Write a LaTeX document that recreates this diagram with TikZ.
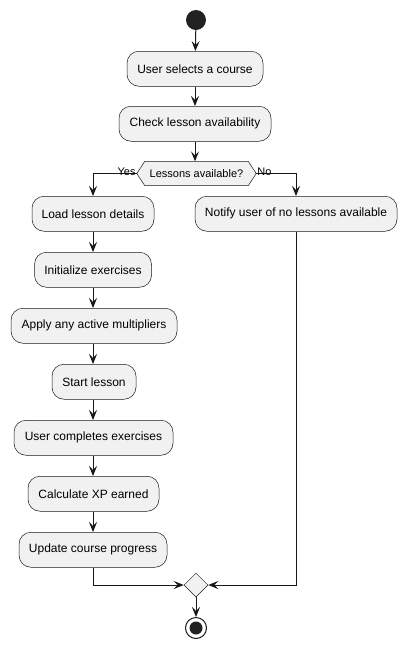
\documentclass[tikz,border=0pt]{standalone}
\usepackage{fontspec}
\setmainfont{Liberation Sans}
\usetikzlibrary{arrows.meta,shapes.geometric}
\definecolor{boxfill}{HTML}{F1F1F1}
\definecolor{linecol}{HTML}{181818}
\definecolor{dotcol}{HTML}{222222}
\begin{document}
\begin{tikzpicture}[x=1pt,y=-1pt,
  act/.style={draw=linecol,fill=boxfill,rounded corners=12pt,line width=0.5pt,
    minimum height=35pt,inner sep=0pt,font=\fontsize{12}{14}\selectfont,anchor=north},
  flow/.style={draw=linecol,line width=1pt,-{Stealth[length=10pt,width=8pt,inset=4pt]}},
  lbl/.style={font=\fontsize{11}{13}\selectfont,inner sep=0pt}]
\useasboundingbox (0,0) rectangle (407,649);
\node[circle,fill=dotcol,minimum size=20pt,inner sep=0pt] (start) at (196,20) {};
\node[act,minimum width=136pt] (a1) at (195,51) {User selects a course};
\node[act,minimum width=152pt] (a2) at (195,106) {Check lesson availability};
\node[lbl,minimum width=119pt,minimum height=24pt] (dec) at (196.5,173.5) {Lessons available?};
\draw[draw=linecol,fill=boxfill,line width=0.5pt] (dec.west) -- ([xshift=8pt]dec.north west) -- ([xshift=-8pt]dec.north east) -- (dec.east) -- ([xshift=-8pt]dec.south east) -- ([xshift=8pt]dec.south west) -- cycle;
\node[lbl] at (dec) {Lessons available?};
\node[act,minimum width=122pt] (l1) at (93,196) {Load lesson details};
\node[act,minimum width=117pt] (l2) at (93,252) {Initialize exercises};
\node[act,minimum width=166pt] (l3) at (94,308) {Apply any active multipliers};
\node[act,minimum width=84pt] (l4) at (94,364) {Start lesson};
\node[act,minimum width=159pt] (l5) at (93.5,420) {User completes exercises};
\node[act,minimum width=131pt] (l6) at (93.5,476) {Calculate XP earned};
\node[act,minimum width=148pt] (l7) at (93,532) {Update course progress};
\node[act,minimum width=202pt] (r1) at (296,196) {Notify user of no lessons available};
\node[diamond,draw=linecol,fill=boxfill,line width=0.5pt,minimum width=24pt,minimum height=24pt,inner sep=0pt] (merge) at (196,585) {};
\node[circle,draw=linecol,line width=1pt,minimum size=21pt,inner sep=0pt] (stop) at (196,628) {};
\node[circle,fill=dotcol,minimum size=13pt,inner sep=0pt] (stopdot) at (stop) {};
\draw[flow] (start) -- (a1);
\draw[flow] (a1) -- (a2);
\draw[flow] (a2.south) -- (dec.north -| a2.south);
\draw[flow] (dec.west) -| (l1.north);
\draw[flow] (dec.east) -| (r1.north);
\node[lbl,anchor=south east] (yes) at ([xshift=-1pt,yshift=-2pt]dec.west) {Yes};
\node[lbl,anchor=south west] (no) at ([xshift=1pt,yshift=-2pt]dec.east) {No};
\draw[flow] (l1) -- (l2);
\draw[flow] (l2.south) -- (l3.north -| l2.south);
\draw[flow] (l3.south -| l2.south) -- (l4.north -| l2.south);
\draw[flow] (l4.south -| l2.south) -- (l5.north -| l2.south);
\draw[flow] (l5.south -| l2.south) -- (l6.north -| l2.south);
\draw[flow] (l6.south -| l2.south) -- (l7.north -| l2.south);
\draw[flow] (l7.south) |- (merge.west);
\draw[flow] (r1.south) |- (merge.east);
\draw[flow] (merge.south) -- (stop.north);
\end{tikzpicture}
\end{document}
